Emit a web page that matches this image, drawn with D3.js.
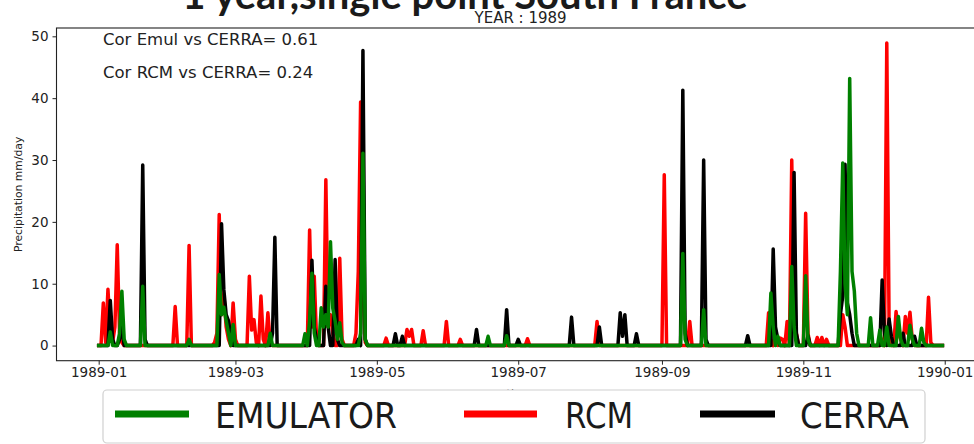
<!DOCTYPE html>
<html>
<head>
<meta charset="utf-8">
<script src="https://cdn.jsdelivr.net/npm/d3@7"></script>
<style>
html,body{margin:0;padding:0;background:#fff;}
svg{display:block;}
text{font-family:"DejaVu Sans",sans-serif;}
</style>
</head>
<body>
<svg id="chart" width="974" height="444"></svg>
<script>
// ---------- DATA (daily precipitation, 1989; days not listed are 0) ----------
const year = 1989;
const nDays = 365;
const rcmDays = [2,3,4,5,6,7,8,9,10,33,39,50,51,52,53,54,55,56,58,59,65,66,67,68,70,71,73,74,91,92,93,94,98,99,100,101,104,105,111,112,113,114,115,124,133,134,135,140,150,156,185,215,244,255,289,290,292,294,295,297,299,300,301,305,306,310,312,314,321,322,338,340,341,344,345,346,348,349,350,351,358,359];
const rcmVals = [6.9,0.5,9.1,2,0.5,3,16.3,2,0.5,6.3,16.2,0.5,2,21.2,5,8.2,3,1,6.9,1,11.2,2.5,4.2,0.5,8.0,1,5.3,0.5,18.7,3,11.2,1,26.8,3,5,2,14.1,1,2,12,39.4,10,0.5,1.2,2.6,1.5,2.6,2.4,3.9,1.0,1.1,3.9,27.6,3.9,5.3,1,1.5,1.2,1,3.9,30.0,6,2,21.4,2,1.3,1.3,1.0,5,3,1,48.9,3,5.5,2,1,4.7,2,5.4,1,7.8,0.5];

const cerraDays = [5,6,9,10,19,20,53,54,55,56,57,75,76,92,93,94,98,99,102,103,112,114,115,128,131,163,176,181,204,216,225,226,227,232,252,253,261,262,280,291,292,293,300,301,306,320,321,322,323,324,325,338,339,341,342,347,352];
const cerraVals = [7.3,1,1,3.0,29.2,1,19.7,9,5,4,1.5,2,17.5,13.8,3,1,9.6,3,13.9,1,1,47.7,1,1.9,1.5,2.6,5.8,1,4.6,3.0,5.3,1.5,5.0,1.9,41.3,2,30.0,1,1.6,15.6,3,1,28.0,2,1.6,5,8,29.3,6.9,5,2,10.6,2,4.3,1.5,2,1.5];

const emulDays = [5,9,10,11,19,39,52,53,54,55,56,58,74,89,91,92,93,96,97,98,99,100,101,102,103,104,105,113,114,115,168,176,252,253,261,290,291,293,299,300,305,306,320,321,322,323,324,325,326,327,333,337,340,345,346,350,351,355,356];
const emulVals = [2.2,2,8.8,1,9.6,1.0,11.5,5,6.2,4,2,3.4,2,1.9,4,11.7,2,6.1,3,5,3,16.8,6,4,1,3.7,0.5,2,31.1,1,1.5,1.6,14.9,1,5.8,8.5,3,1.5,12.8,3,11.3,1,12,29.5,10,5,43.2,12,8.8,2,4.5,2.5,3,4.7,1,3.3,1,2.8,0.5];

const tickLabels = ["1989-01","1989-03","1989-05","1989-07","1989-09","1989-11","1990-01"];
const yTicks = [0,10,20,30,40,50];
const seriesNames = ["EMULATOR","RCM","CERRA"];
const seriesColors = ["#008000","#ff0000","#000000"];
const corTexts = ["Cor Emul vs CERRA= 0.61","Cor RCM vs CERRA= 0.24"];
const mainTitle = "1 year,single point South France";
const subTitle = "YEAR : 1989";
const yLabel = "Precipitation mm/day";
const xLabel = "time";

// ---------- build daily series ----------
function build(days, vals){
  const m = new Map(days.map((d,i)=>[d,vals[i]]));
  return d3.range(nDays).map(i => ({date: d3.timeDay.offset(new Date(year,0,1), i), v: m.has(i)? m.get(i) : 0}));
}
const emul = build(emulDays, emulVals);
const rcm = build(rcmDays, rcmVals);
const cerra = build(cerraDays, cerraVals);

// ---------- layout ----------
const svg = d3.select("#chart");
const L = 56.5, R = 984.6, T = 28, B = 360.7;

const t0 = emul[0].date, t1 = emul[nDays-1].date;
const span = t1 - t0;
const x = d3.scaleTime().domain([new Date(+t0 - span*0.05), new Date(+t1 + span*0.05)]).range([L, R]);
const allV = [].concat(emul, rcm, cerra).map(d=>d.v);
const vmin = d3.min(allV), vmax = d3.max(allV);
const pad = (vmax - vmin) * 0.05;
const y = d3.scaleLinear().domain([vmin - pad, vmax + pad]).range([B, T]);

// titles
svg.append("text").attr("x", 465).attr("y", 9).attr("text-anchor","middle")
  .style("font-family","Lato, 'Open Sans', sans-serif").style("font-weight","bold")
  .style("font-size","40px").attr("fill","#1a1a1a").text(mainTitle);
svg.append("text").attr("x", (L+R)/2).attr("y", 23).attr("text-anchor","middle")
  .style("font-size","15px").attr("fill","#222").text(subTitle);

// lines
const line = d3.line().x(d=>x(d.date)).y(d=>y(d.v));
const g = svg.append("g");
[[rcm,1],[cerra,2],[emul,0]].forEach(([data,i])=>{
  g.append("path").datum(data).attr("d", line).attr("fill","none")
   .attr("stroke", seriesColors[i]).attr("stroke-width", 3.5)
   .attr("stroke-linejoin","round").attr("stroke-linecap","square");
});

// frame
svg.append("rect").attr("x", L).attr("y", T).attr("width", R-L).attr("height", B-T)
  .attr("fill","none").attr("stroke","#222").attr("stroke-width",1.1);

// axes
const xTickDates = tickLabels.map(s => d3.timeParse("%Y-%m")(s));
const xAxis = d3.axisBottom(x).tickValues(xTickDates).tickFormat(d3.timeFormat("%Y-%m")).tickSize(4).tickPadding(3);
const gx = svg.append("g").attr("transform", `translate(0,${B})`).call(xAxis);
gx.select(".domain").remove();
gx.selectAll("line").attr("stroke","#222");
gx.selectAll("text").style("font-size","13.5px").style("font-family","'DejaVu Sans',sans-serif").attr("fill","#222");

const yAxis = d3.axisLeft(y).tickValues(yTicks).tickSize(4).tickPadding(4);
const gy = svg.append("g").attr("transform", `translate(${L},0)`).call(yAxis);
gy.select(".domain").remove();
gy.selectAll("line").attr("stroke","#222");
gy.selectAll("text").style("font-size","13.5px").style("font-family","'DejaVu Sans',sans-serif").attr("fill","#222");

// axis labels
svg.append("text").attr("transform", `translate(22,${(T+B)/2}) rotate(-90)`).attr("text-anchor","middle")
  .style("font-size","10.8px").attr("fill","#222").text(yLabel);
svg.append("text").attr("x", 519).attr("y", 397).attr("text-anchor","middle")
  .style("font-size","11px").attr("fill","#222").text(xLabel);

// correlation texts
corTexts.forEach((t,i)=>{
  svg.append("text").attr("x", 103).attr("y", 45 + i*33).style("font-size","16.5px").attr("fill","#222").text(t);
});

// legend
const lg = svg.append("g");
lg.append("rect").attr("x",103).attr("y",390).attr("width",822).attr("height",53).attr("rx",4)
  .attr("fill","#fff").attr("stroke","#d0d0d0").attr("stroke-width",1.2);
const legItems = [
  {lx1:115, lx2:189, tx:215, tw:182},
  {lx1:464, lx2:537, tx:565, tw:68},
  {lx1:700, lx2:775, tx:800, tw:109}
];
legItems.forEach((it,i)=>{
  lg.append("line").attr("x1",it.lx1).attr("x2",it.lx2).attr("y1",414).attr("y2",414)
    .attr("stroke",seriesColors[i]).attr("stroke-width",7);
  lg.append("text").attr("x",it.tx).attr("y",428).style("font-size","36px").attr("fill","#1a1a1a")
    .attr("textLength",it.tw).attr("lengthAdjust","spacingAndGlyphs").text(seriesNames[i]);
});
</script>
</body>
</html>
